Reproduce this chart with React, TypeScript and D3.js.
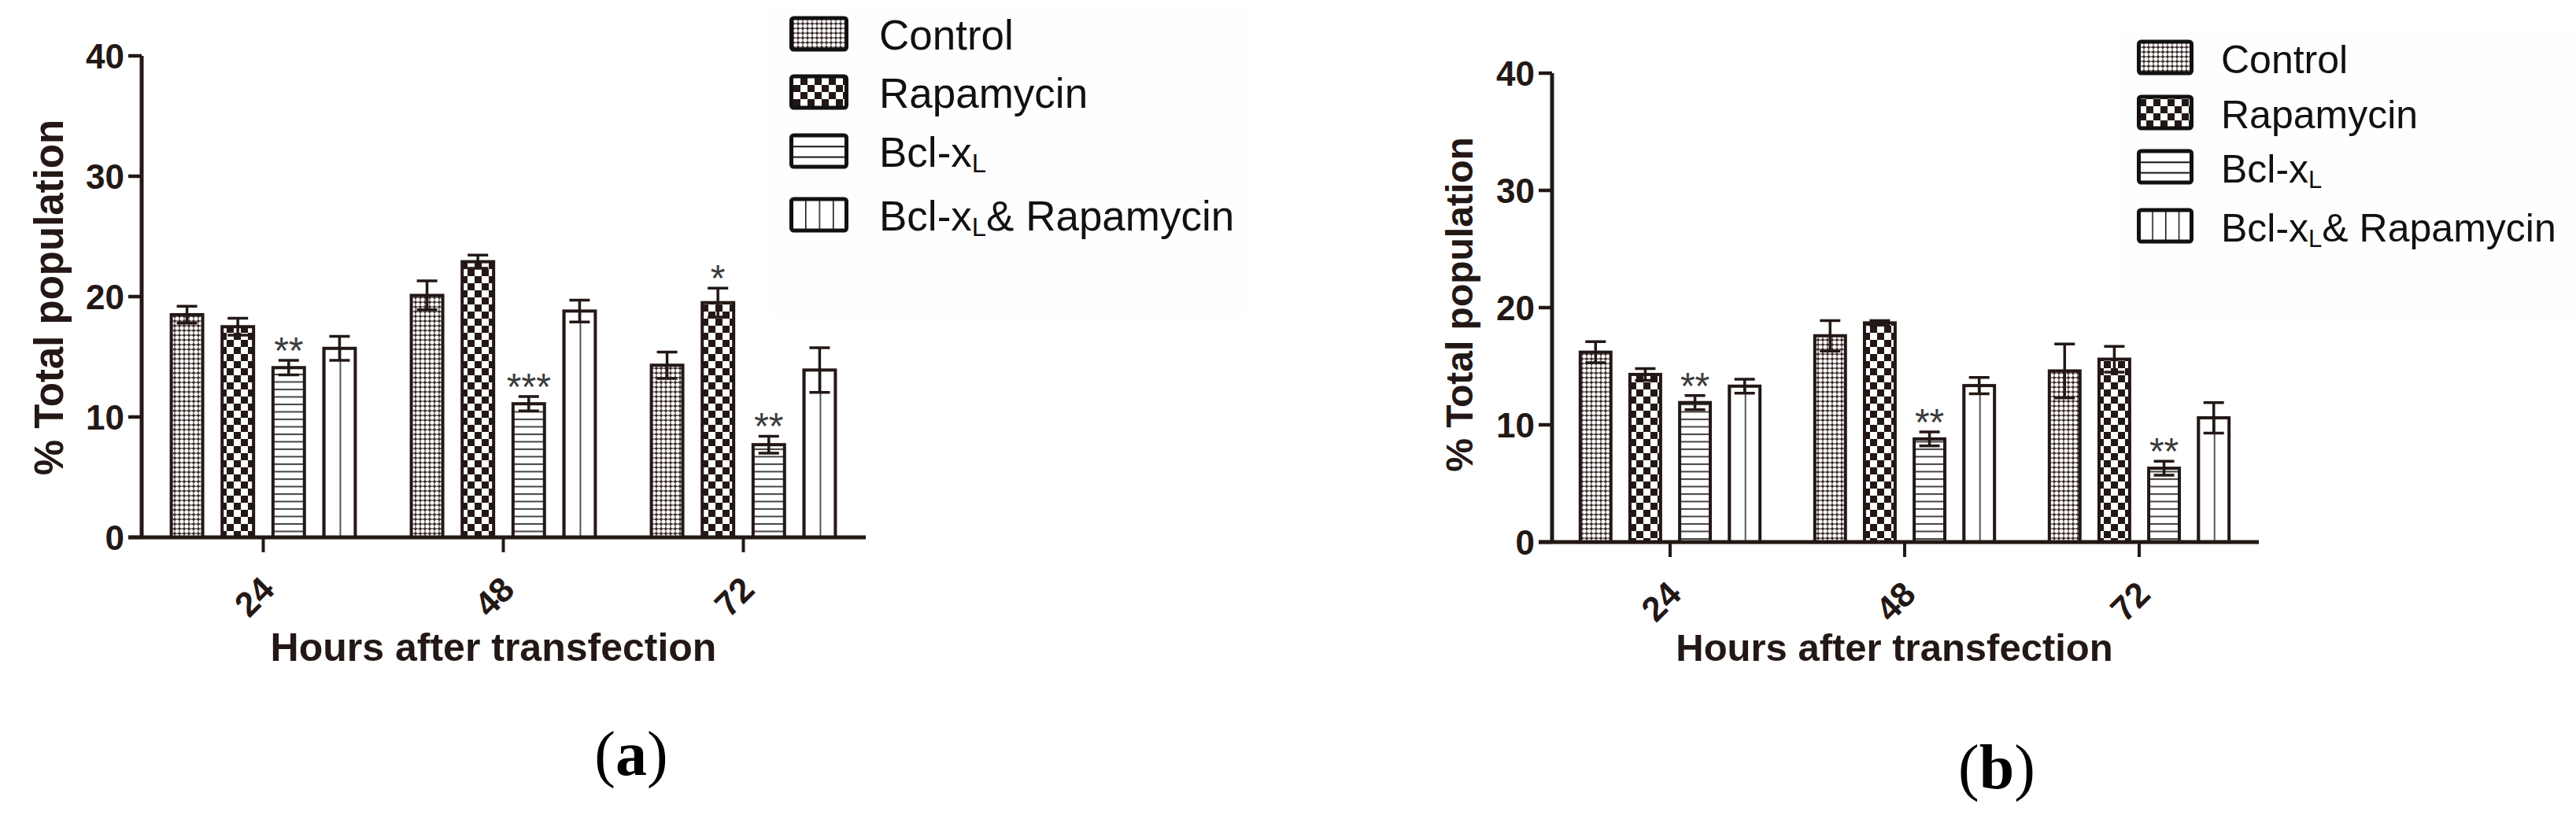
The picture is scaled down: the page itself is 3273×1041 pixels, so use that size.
import React, { useEffect, useRef } from 'react';
import * as d3 from 'd3';

// categories / series
const hours = ['24', '48', '72'];
const treatments = ['Control', 'Rapamycin', 'Bcl-xL', 'Bcl-xL& Rapamycin'];
const yTicks = [0, 10, 20, 30, 40];

// panel (a) – rows are hours, columns are treatments
const meansA = [
  [18.5, 17.5, 14.1, 15.7],
  [20.1, 22.9, 11.1, 18.8],
  [14.3, 19.5, 7.7, 13.9],
];
const errA = [
  [0.7, 0.7, 0.6, 1.0],
  [1.2, 0.55, 0.6, 0.9],
  [1.1, 1.2, 0.7, 1.85],
];
const starsA = [
  ['', '', '**', ''],
  ['', '', '***', ''],
  ['', '*', '**', ''],
];

// panel (b)
const meansB = [
  [16.2, 14.3, 11.9, 13.3],
  [17.6, 18.7, 8.8, 13.35],
  [14.6, 15.6, 6.3, 10.6],
];
const errB = [
  [0.9, 0.5, 0.6, 0.6],
  [1.3, 0.2, 0.6, 0.7],
  [2.3, 1.1, 0.6, 1.3],
];
const starsB = [
  ['', '', '**', ''],
  ['', '', '**', ''],
  ['', '', '**', ''],
];

const INK = '#231815';
const SANS = '"Liberation Sans", Arial, Helvetica, sans-serif';
const SERIF = '"Liberation Serif", "Times New Roman", serif';
const barFill = ['url(#pCtrl)', 'url(#pRapa)', 'url(#pBcl)', 'url(#pBclR)'];
const legendFill = ['url(#pCtrl)', 'url(#pRapa)', 'url(#lBcl)', 'url(#lBclR)'];

const panelA = {
  name: 'a', means: meansA, errs: errA, stars: starsA,
  axisX: 180, xRange: [182, 1097], yRange: [683, 71],
  yLabel: { x: 62, y: 378, size: 51 },
  xTitle: { x: 627, y: 840, size: 50 },
  tag: { x: 802, y: 985 },
  legend: { bg: [977, 5, 606, 398], boxX: 1003, boxW: 75, textX: 1117, base: [63, 137, 212, 293], size: 53 },
};
const panelB = {
  name: 'b', means: meansB, errs: errB, stars: starsB,
  axisX: 1972, xRange: [1973, 2867], yRange: [689, 93],
  yLabel: { x: 1854, y: 387, size: 48 },
  xTitle: { x: 2407, y: 840, size: 49 },
  tag: { x: 2537, y: 1002 },
  legend: { bg: [2694, 41, 579, 367], boxX: 2715, boxW: 72, textX: 2822, base: [93, 163, 232, 307], size: 50 },
};

function addLabel(sel, label) {
  // Bcl-xL gets a subscript L
  if (label.startsWith('Bcl-xL')) {
    sel.append('tspan').text('Bcl-x');
    sel.append('tspan').text('L').attr('font-size', '0.62em').attr('dy', '0.22em');
    const rest = label.slice(6);
    if (rest) sel.append('tspan').text(rest).attr('dy', '-0.14em');
  } else {
    sel.text(label);
  }
}

function drawPanel(root, p) {
  const g = root.append('g');
  const x0 = d3.scaleBand().domain(hours).range(p.xRange);
  const x1 = d3.scaleBand().domain(treatments).range([0, x0.bandwidth()]).paddingInner(0.32).paddingOuter(0.52);
  const y = d3.scaleLinear().domain([0, 40]).range(p.yRange);
  const bw = x1.bandwidth();

  // legend background + legend
  const L = p.legend;
  g.append('rect').attr('x', L.bg[0]).attr('y', L.bg[1]).attr('width', L.bg[2]).attr('height', L.bg[3]).attr('fill', '#fefefe');
  treatments.forEach((t, i) => {
    g.append('rect')
      .attr('x', L.boxX + 2.5).attr('y', L.base[i] - 40).attr('width', L.boxW - 5).attr('height', 40)
      .attr('rx', 3).attr('fill', legendFill[i]).attr('stroke', '#111').attr('stroke-width', 5);
    const tx = g.append('text').attr('x', L.textX).attr('y', L.base[i])
      .attr('font-family', SANS).attr('font-size', L.size).attr('fill', '#111');
    addLabel(tx, t);
  });

  // bars
  p.means.forEach((row, hi) => {
    const gx = x0(hours[hi]);
    row.forEach((v, ti) => {
      const bx = gx + x1(treatments[ti]);
      g.append('rect')
        .attr('x', bx + 2).attr('y', y(v)).attr('width', bw - 4).attr('height', y(0) - y(v))
        .attr('fill', barFill[ti]).attr('stroke', INK).attr('stroke-width', 4);
      const e = p.errs[hi][ti];
      const cx = bx + bw / 2;
      const eb = d3.path();
      eb.moveTo(cx, y(v - e)); eb.lineTo(cx, y(v + e));
      eb.moveTo(cx - 13, y(v + e)); eb.lineTo(cx + 13, y(v + e));
      eb.moveTo(cx - 13, y(v - e)); eb.lineTo(cx + 13, y(v - e));
      g.append('path').attr('d', eb.toString()).attr('stroke', INK).attr('stroke-width', 3.5).attr('fill', 'none');
      const s = p.stars[hi][ti];
      if (s) {
        g.append('text').attr('x', cx).attr('y', y(v + e) + 4).attr('text-anchor', 'middle')
          .attr('font-family', SANS).attr('font-size', 48).attr('fill', '#3c3c3c').text(s);
      }
    });
  });

  // y axis
  const y0 = y(0);
  g.append('line').attr('x1', p.axisX).attr('x2', p.axisX).attr('y1', y0 + 2).attr('y2', y(40))
    .attr('stroke', INK).attr('stroke-width', 5);
  yTicks.forEach((t) => {
    g.append('line').attr('x1', p.axisX - 17).attr('x2', p.axisX).attr('y1', y(t)).attr('y2', y(t))
      .attr('stroke', INK).attr('stroke-width', 4.5);
    g.append('text').attr('x', p.axisX - 22).attr('y', y(t)).attr('dy', '0.36em').attr('text-anchor', 'end')
      .attr('font-family', SANS).attr('font-weight', 'bold').attr('font-size', 44).attr('fill', INK).text(t);
  });

  // x axis
  g.append('line').attr('x1', p.axisX - 17).attr('x2', p.xRange[1] + 3).attr('y1', y0).attr('y2', y0)
    .attr('stroke', INK).attr('stroke-width', 5);
  hours.forEach((h) => {
    const cx = x0(h) + x0.bandwidth() / 2;
    g.append('line').attr('x1', cx).attr('x2', cx).attr('y1', y0).attr('y2', y0 + 19)
      .attr('stroke', INK).attr('stroke-width', 4);
    g.append('text').attr('transform', `translate(${cx - 12},${y0 + 75}) rotate(-45)`)
      .attr('text-anchor', 'middle').attr('dy', '0.36em')
      .attr('font-family', SANS).attr('font-weight', 'bold').attr('font-size', 44).attr('fill', INK).text(h);
  });

  // axis titles
  g.append('text').attr('transform', `translate(${p.yLabel.x},${p.yLabel.y}) rotate(-90)`)
    .attr('text-anchor', 'middle').attr('dy', '0.36em')
    .attr('font-family', SANS).attr('font-weight', 'bold').attr('font-size', p.yLabel.size).attr('fill', INK)
    .text('% Total population');
  g.append('text').attr('x', p.xTitle.x).attr('y', p.xTitle.y).attr('text-anchor', 'middle')
    .attr('font-family', SANS).attr('font-weight', 'bold').attr('font-size', p.xTitle.size).attr('fill', INK)
    .text('Hours after transfection');

  // panel tag
  const tag = g.append('text').attr('x', p.tag.x).attr('y', p.tag.y).attr('text-anchor', 'middle')
    .attr('font-family', SERIF).attr('font-size', 80).attr('fill', '#000');
  tag.append('tspan').text('(');
  tag.append('tspan').attr('font-weight', 'bold').text(p.name);
  tag.append('tspan').text(')');
}

export default function App() {
  const ref = useRef(null);
  useEffect(() => {
    const svg = d3.select(ref.current);
    svg.selectAll('*').remove();
    const defs = svg.append('defs');

    const ctrl = defs.append('pattern').attr('id', 'pCtrl').attr('patternUnits', 'userSpaceOnUse').attr('width', 6).attr('height', 6);
    ctrl.append('rect').attr('width', 6).attr('height', 6).attr('fill', '#3a2c2a');
    ctrl.append('circle').attr('cx', 3).attr('cy', 3).attr('r', 2.6).attr('fill', '#fff');

    const rapa = defs.append('pattern').attr('id', 'pRapa').attr('patternUnits', 'userSpaceOnUse').attr('width', 18).attr('height', 18);
    rapa.append('rect').attr('width', 18).attr('height', 18).attr('fill', '#fff');
    rapa.append('rect').attr('width', 9).attr('height', 9).attr('fill', INK);
    rapa.append('rect').attr('x', 9).attr('y', 9).attr('width', 9).attr('height', 9).attr('fill', INK);

    const bcl = defs.append('pattern').attr('id', 'pBcl').attr('patternUnits', 'userSpaceOnUse').attr('width', 10).attr('height', 9.5);
    bcl.append('rect').attr('width', 10).attr('height', 9.5).attr('fill', '#fff');
    bcl.append('rect').attr('width', 10).attr('height', 2).attr('fill', '#444');

    const bclr = defs.append('pattern').attr('id', 'pBclR').attr('patternUnits', 'objectBoundingBox').attr('width', 0.5).attr('height', 1);
    bclr.append('rect').attr('width', 200).attr('height', 2000).attr('fill', '#fff');
    bclr.append('rect').attr('x', 0).attr('width', 2).attr('height', 2000).attr('fill', '#555');

    const lbcl = defs.append('pattern').attr('id', 'lBcl').attr('patternUnits', 'objectBoundingBox').attr('width', 1).attr('height', 1 / 3);
    lbcl.append('rect').attr('width', 200).attr('height', 200).attr('fill', '#fff');
    lbcl.append('rect').attr('y', -1).attr('width', 200).attr('height', 3).attr('fill', '#111');

    const lbclr = defs.append('pattern').attr('id', 'lBclR').attr('patternUnits', 'objectBoundingBox').attr('width', 0.25).attr('height', 1);
    lbclr.append('rect').attr('width', 200).attr('height', 200).attr('fill', '#fff');
    lbclr.append('rect').attr('x', -1).attr('width', 2.5).attr('height', 200).attr('fill', '#111');

    drawPanel(svg, panelA);
    drawPanel(svg, panelB);
  }, []);

  return (
    <svg
      ref={ref}
      width={3273}
      height={1041}
      style={{ position: 'absolute', left: 0, top: 0, background: '#fff', display: 'block' }}
    />
  );
}
